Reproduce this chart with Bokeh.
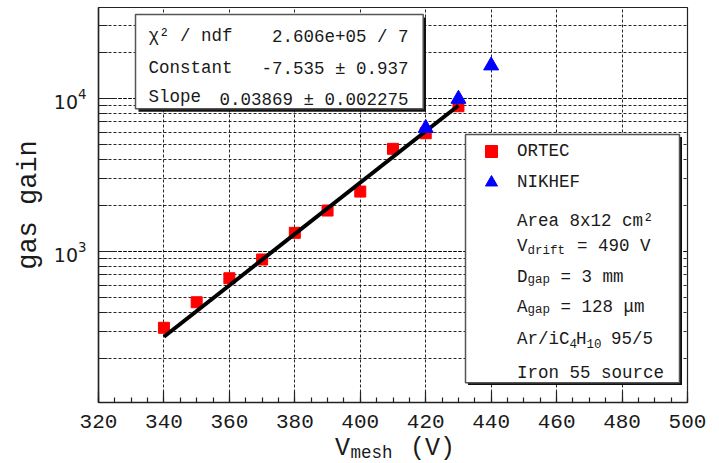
from bokeh.plotting import figure
from bokeh.models import (Range1d, SingleIntervalTicker, LogTicker, BoxAnnotation,
                          Label, Legend, LegendItem, ColumnDataSource, Title)
from bokeh.embed import file_html
from bokeh.resources import INLINE

# ---------------- data ----------------
ortec_v = [340, 350, 360, 370, 380, 390, 400, 410, 420, 430]
ortec_gain = [316, 464, 666, 883, 1319, 1845, 2455, 4670, 5905, 8870]
nikhef_v = [420, 430, 440]
nikhef_gain = [6380, 9900, 16360]
fit_v = [340, 430]
fit_gain = [276, 8973]          # exp(-7.535 + 0.03869 * V) at the end points

stats_names = ["\u03c7\u00b2 / ndf", "Constant", "Slope"]
stats_values = ["2.606e+05 / 7", "-7.535 \u00b1 0.937", "0.03869 \u00b1 0.002275"]
legend_names = ["ORTEC", "NIKHEF"]

MONO = "Liberation Mono"
NB = "\u00a0"

p = figure(width=719, height=463, y_axis_type="log",
           x_range=Range1d(320, 500), y_range=Range1d(102.6, 39200),
           output_backend="svg", toolbar_location=None,
           min_border_left=98, min_border_right=32, min_border_top=7,
           min_border_bottom=61)
p.background_fill_color = "white"
p.border_fill_color = "white"
p.outline_line_color = "#222222"
p.outline_line_width = 1.2

# ---------------- axes ----------------
xt = SingleIntervalTicker(interval=20, num_minor_ticks=4)
p.xaxis.ticker = xt
p.xgrid.ticker = xt
yt = LogTicker(num_minor_ticks=10)
p.yaxis.ticker = yt
p.ygrid.ticker = yt

for ax in (p.xaxis[0], p.yaxis[0]):
    ax.axis_line_color = "#222222"
    ax.axis_line_width = 1.5
    ax.major_tick_line_color = "#222222"
    ax.minor_tick_line_color = "#222222"
    ax.major_tick_line_width = 1.2
    ax.minor_tick_line_width = 1.2
    ax.major_tick_out = 0
    ax.minor_tick_out = 0
    ax.major_label_text_color = "#1a1a1a"

p.xaxis.major_tick_in = 11
p.xaxis.minor_tick_in = 5
p.xaxis.major_label_text_font = MONO
p.xaxis.major_label_text_font_size = "21px"
p.xaxis.major_label_standoff = 12

p.yaxis.major_tick_in = 18
p.yaxis.minor_tick_in = 9
p.yaxis.major_label_text_font = "DejaVu Sans"
p.yaxis.major_label_text_font_size = "19px"
p.yaxis.major_label_standoff = 12
p.yaxis.axis_label = "gas gain"
p.yaxis.axis_label_text_font = MONO
p.yaxis.axis_label_text_font_size = "27px"
p.yaxis.axis_label_text_font_style = "normal"
p.yaxis.axis_label_text_color = "#1a1a1a"
p.yaxis.axis_label_standoff = 7

# ---------------- grid ----------------
for g in (p.xgrid[0], p.ygrid[0]):
    g.grid_line_color = "black"
    g.grid_line_dash = "3 2"
    g.grid_line_width = 1
    g.grid_line_alpha = 0.85
p.ygrid.minor_grid_line_color = "black"
p.ygrid.minor_grid_line_dash = "3 2"
p.ygrid.minor_grid_line_width = 1
p.ygrid.minor_grid_line_alpha = 0.85

# ---------------- glyphs ----------------
src_o = ColumnDataSource(dict(v=ortec_v, g=ortec_gain))
src_n = ColumnDataSource(dict(v=nikhef_v, g=nikhef_gain))
src_f = ColumnDataSource(dict(v=fit_v, g=fit_gain))

r_sq = p.scatter("v", "g", source=src_o, marker="square", size=11,
                 fill_color="#ff0000", line_color="#ff0000")
p.line("v", "g", source=src_f, line_color="black", line_width=4)
r_tr = p.scatter("v", "g", source=src_n, marker="triangle", size=15,
                 fill_color="#0000ff", line_color="#0000ff")

# ---------------- stats box ----------------
def box(l, r, t, b, fill, line, lw):
    return BoxAnnotation(left=l, right=r, top=t, bottom=b,
                         left_units="screen", right_units="screen",
                         top_units="screen", bottom_units="screen",
                         fill_color=fill, fill_alpha=1.0,
                         line_color=line, line_alpha=1.0 if line else 0.0,
                         line_width=lw, level="annotation")

p.add_layout(box(40, 327.5, 385, 290.7, "#111111", None, 0))
p.add_layout(box(37, 324.7, 388, 293.7, "white", "#555555", 1.5))

FS = "17.5px"
left_y = [367, 334.5, 305.5]
right_y = [365.5, 334, 303]
for name, val, ly, ry in zip(stats_names, stats_values, left_y, right_y):
    p.add_layout(Label(x=50, y=ly, x_units="screen", y_units="screen", text=name,
                       text_font=MONO, text_font_size=FS, text_color="#1a1a1a",
                       text_align="left", text_baseline="alphabetic"))
    p.add_layout(Label(x=310, y=ry, x_units="screen", y_units="screen", text=val,
                       text_font=MONO, text_font_size=FS, text_color="#1a1a1a",
                       text_align="right", text_baseline="alphabetic"))

# ---------------- legend box ----------------
p.add_layout(box(369.5, 583.5, 265.5, 17.5, "#111111", None, 0))
p.add_layout(box(367, 581, 268, 19.7, "white", "#555555", 1.5))

legend = Legend(items=[LegendItem(label=legend_names[0], renderers=[r_sq]),
                       LegendItem(label=legend_names[1], renderers=[r_tr])],
                location=(378, 205.3), glyph_width=30, glyph_height=30,
                spacing=1, padding=0, margin=0, label_standoff=11,
                label_text_font=MONO, label_text_font_size=FS,
                label_text_color="#1a1a1a",
                border_line_alpha=0, background_fill_alpha=0)
p.add_layout(legend)

SUB = "12.5px"
def lab(x, y, t, size=FS):
    p.add_layout(Label(x=x, y=y, x_units="screen", y_units="screen", text=t,
                       text_font=MONO, text_font_size=size, text_color="#1a1a1a",
                       text_align="left", text_baseline="alphabetic"))

X0 = 418.5
lab(X0, 181.3, "Area 8x12 cm\u00b2")
lab(X0, 157, "V")
lab(X0 + 10.5, 152, "drift", SUB)
lab(478.6, 157, "= 490 V")
lab(X0, 125.3, "D")
lab(X0 + 10.5, 122.7, "gap", SUB)
lab(462, 125.3, "= 3 mm")
lab(X0, 95.3, "A")
lab(X0 + 10.5, 92.7, "gap", SUB)
lab(462, 95.3, "= 128 \u03bcm")
lab(X0, 63.7, "Ar/iC")
lab(471, 58.7, "4", SUB)
lab(477.5, 63.7, "H")
lab(488, 58.7, "10", SUB)
lab(512.5, 63.7, "95/5")
lab(X0, 29.3, "Iron 55 source")

# ---------------- x axis title (two stacked titles below the axis) ----------------
t_main = Title(text="V" + NB * 4 + "(V)", align="left", offset=236.5,
               vertical_align="bottom", standoff=2, text_font=MONO,
               text_font_size="25px", text_font_style="normal",
               text_color="#1a1a1a")
t_sub = Title(text="mesh", align="left", offset=252, vertical_align="top",
              standoff=-42, text_font=MONO, text_font_size="17.5px",
              text_font_style="normal", text_color="#1a1a1a")
p.add_layout(t_main, "below")
p.add_layout(t_sub, "below")

open("out.html", "w").write(file_html(p, INLINE))
